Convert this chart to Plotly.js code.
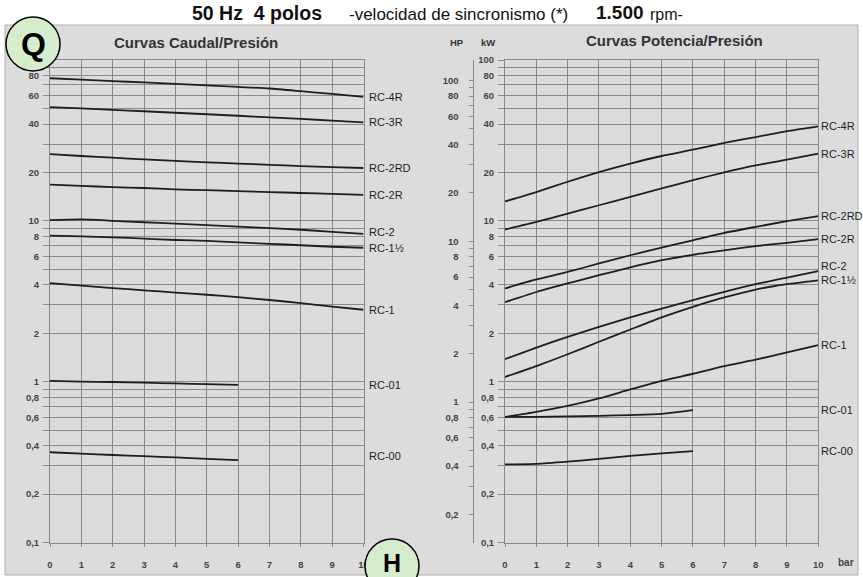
<!DOCTYPE html>
<html>
<head>
<meta charset="utf-8">
<script src="https://cdn.plot.ly/plotly-3.0.1.min.js"></script>
<style>html,body{margin:0;padding:0;background:#fff;}#chart{width:863px;height:577px;}</style>
</head>
<body>
<div id="chart"></div>
<script>
// ---------- DATA ----------
const pressure = [0, 1, 2, 3, 4, 5, 6, 7, 8, 9, 10];     // bar
const pressureShort = [0, 1, 2, 3, 4, 5, 6];              // bar (RC-01, RC-00)
const models = ['RC-4R', 'RC-3R', 'RC-2RD', 'RC-2R', 'RC-2', 'RC-1½', 'RC-1', 'RC-01', 'RC-00'];

// Curvas Caudal/Presión (Q)
const flowRC4R  = [77, 75.5, 74, 72.5, 71, 69.5, 68, 66.5, 64, 61.5, 59];
const flowRC3R  = [51, 50, 49, 48, 47, 46, 45, 44, 43, 42, 41];
const flowRC2RD = [26, 25.3, 24.7, 24.1, 23.6, 23.1, 22.7, 22.3, 21.9, 21.6, 21.3];
const flowRC2R  = [16.8, 16.5, 16.2, 16, 15.7, 15.5, 15.3, 15.1, 14.9, 14.7, 14.5];
const flowRC2   = [10.1, 10.2, 10.0, 9.8, 9.6, 9.4, 9.2, 9.0, 8.8, 8.55, 8.3];
const flowRC112 = [8.1, 8.0, 7.9, 7.75, 7.6, 7.5, 7.35, 7.2, 7.05, 6.9, 6.8];
const flowRC1   = [4.1, 3.95, 3.82, 3.7, 3.58, 3.47, 3.35, 3.22, 3.08, 2.93, 2.8];
const flowRC01  = [1.01, 1.0, 0.995, 0.985, 0.975, 0.965, 0.955];
const flowRC00  = [0.364, 0.357, 0.350, 0.344, 0.338, 0.331, 0.325];

// Curvas Potencia/Presión (kW)
const powRC4R  = [13.2, 15.1, 17.5, 20.1, 22.7, 25.3, 27.7, 30.5, 33.2, 36.1, 38.7];
const powRC3R  = [8.83, 9.84, 11.1, 12.5, 14.1, 15.9, 17.9, 20, 22.1, 24, 26.2];
const powRC2RD = [3.8, 4.32, 4.81, 5.43, 6.11, 6.82, 7.57, 8.41, 9.17, 9.95, 10.7];
const powRC2R  = [3.12, 3.61, 4.08, 4.59, 5.13, 5.69, 6.15, 6.55, 6.96, 7.3, 7.69];
const powRC2   = [1.38, 1.63, 1.9, 2.19, 2.51, 2.85, 3.21, 3.62, 4.04, 4.44, 4.86];
const powRC112 = [1.07, 1.25, 1.48, 1.77, 2.11, 2.51, 2.92, 3.34, 3.74, 4.04, 4.27];
const powRC1   = [0.604, 0.649, 0.707, 0.787, 0.894, 1.01, 1.12, 1.25, 1.37, 1.52, 1.69];
const powRC01  = [0.604, 0.604, 0.608, 0.613, 0.62, 0.63, 0.665];
const powRC00  = [0.306, 0.308, 0.318, 0.331, 0.346, 0.358, 0.37];

// Tick values / labels
const logTickVals = [0.1,0.2,0.3,0.4,0.5,0.6,0.7,0.8,0.9,1,2,3,4,5,6,7,8,9,10,20,30,40,50,60,70,80,90,100];
const leftTickText = ['0,1','0,2','','0,4','','0,6','','0,8','','1','2','','4','','6','','8','','10','20','','40','','60','','80','',''];
const kwTickText = ['0,1','0,2','','0,4','','0,6','','0,8','','1','2','','4','','6','','8','','10','20','','40','','60','','80','','100'];
const hpTickVals = [0.2,0.3,0.4,0.5,0.6,0.7,0.8,0.9,1,2,3,4,5,6,7,8,9,10,20,30,40,50,60,70,80,90,100];
const hpTickText = ['0,2','','0,4','','0,6','','0,8','','1','2','','4','','6','','8','','10','20','','40','','60','','80','','100'];
const xTickVals = [0,1,2,3,4,5,6,7,8,9,10];
const kwToHp = 1.341;

const titleMain = '50 Hz\u00a0\u00a04 polos';
const titleSub = '-velocidad de sincronismo (*)';
const titleSpeed = '1.500';
const titleRpm = 'rpm-';
const leftTitle = 'Curvas Caudal/Presión';
const rightTitle = 'Curvas Potencia/Presión';

// ---------- BUILD ----------
const flowSeries = [flowRC4R, flowRC3R, flowRC2RD, flowRC2R, flowRC2, flowRC112, flowRC1, flowRC01, flowRC00];
const powSeries = [powRC4R, powRC3R, powRC2RD, powRC2R, powRC2, powRC112, powRC1, powRC01, powRC00];

const W = 863, H = 577;
const px = v => v / W;
const py = v => 1 - v / H;

const lineStyle = {color: '#1e1e1e', width: 1.8, shape: 'spline', smoothing: 0.6};
const traces = [];
flowSeries.forEach((ys, i) => {
  traces.push({x: ys.length === pressure.length ? pressure : pressureShort, y: ys, xaxis: 'x', yaxis: 'y',
    mode: 'lines', line: lineStyle, hoverinfo: 'skip', name: models[i]});
});
powSeries.forEach((ys, i) => {
  traces.push({x: ys.length === pressure.length ? pressure : pressureShort, y: ys, xaxis: 'x2', yaxis: 'y2',
    mode: 'lines', line: lineStyle, hoverinfo: 'skip', name: models[i]});
});
// HP axis carrier (empty)
traces.push({x: [null], y: [null], xaxis: 'x2', yaxis: 'y3', mode: 'lines', hoverinfo: 'skip', showlegend: false});

const labelFont = {family: 'Liberation Sans, Arial', size: 11, color: '#1e1e1e'};
const annotations = [];
const labelShiftLeft = [0, 0, 0, 0, 2, 0, 0, 0, 4];
const labelShiftRight = [0, 0, 0, 0, 5, 0, 0, 0, 0];
flowSeries.forEach((ys, i) => {
  annotations.push({xref: 'x', yref: 'y', x: 10, y: Math.log10(ys[ys.length - 1]), text: models[i],
    showarrow: false, xanchor: 'left', yanchor: 'middle', xshift: 3, yshift: labelShiftLeft[i], font: labelFont});
});
powSeries.forEach((ys, i) => {
  annotations.push({xref: 'x2', yref: 'y2', x: 10, y: Math.log10(ys[ys.length - 1]), text: models[i],
    showarrow: false, xanchor: 'left', yanchor: 'middle', xshift: 1, yshift: labelShiftRight[i], font: labelFont});
});

const titleFamily = 'Liberation Sans, Arial, sans-serif';
annotations.push(
  {xref: 'paper', yref: 'paper', x: px(190), y: py(13), text: '<b>' + titleMain + '</b>', showarrow: false,
   xanchor: 'left', yanchor: 'middle', font: {family: titleFamily, size: 19.5, color: '#111'}},
  {xref: 'paper', yref: 'paper', x: px(347), y: py(14), text: titleSub, showarrow: false,
   xanchor: 'left', yanchor: 'middle', font: {family: titleFamily, size: 17, color: '#111'}},
  {xref: 'paper', yref: 'paper', x: px(594), y: py(12), text: '<b>' + titleSpeed + '</b>', showarrow: false,
   xanchor: 'left', yanchor: 'middle', font: {family: titleFamily, size: 19, color: '#111'}},
  {xref: 'paper', yref: 'paper', x: px(648), y: py(14), text: titleRpm, showarrow: false,
   xanchor: 'left', yanchor: 'middle', font: {family: titleFamily, size: 16, color: '#111'}},
  {xref: 'paper', yref: 'paper', x: px(196), y: py(42), text: '<b>' + leftTitle + '</b>', showarrow: false,
   xanchor: 'center', yanchor: 'middle', font: {family: titleFamily, size: 15, color: '#333'}},
  {xref: 'paper', yref: 'paper', x: px(674), y: py(41), text: '<b>' + rightTitle + '</b>', showarrow: false,
   xanchor: 'center', yanchor: 'middle', font: {family: titleFamily, size: 15, color: '#333'}},
  {xref: 'paper', yref: 'paper', x: px(457), y: py(42), text: '<b>HP</b>', showarrow: false,
   xanchor: 'center', yanchor: 'middle', font: {family: titleFamily, size: 9.5, color: '#333'}},
  {xref: 'paper', yref: 'paper', x: px(488), y: py(42), text: '<b>kW</b>', showarrow: false,
   xanchor: 'center', yanchor: 'middle', font: {family: titleFamily, size: 9.5, color: '#333'}},
  {xref: 'paper', yref: 'paper', x: px(846), y: py(562), text: '<b>bar</b>', showarrow: false,
   xanchor: 'center', yanchor: 'middle', font: {family: titleFamily, size: 10, color: '#444'}},
  {xref: 'paper', yref: 'paper', x: px(33), y: py(44), text: '<b>Q</b>', showarrow: false,
   xanchor: 'center', yanchor: 'middle', font: {family: titleFamily, size: 32, color: '#000'}},
  {xref: 'paper', yref: 'paper', x: px(392), y: py(563), text: '<b>H</b>', showarrow: false,
   xanchor: 'center', yanchor: 'middle', font: {family: titleFamily, size: 25, color: '#000'}}
);

const tickFont = {family: titleFamily, size: 9.5, color: '#444', weight: 'bold'};
const gridColor = '#8a8a8a';
const yDomain = [py(542.5), py(60)];

function xAxis(domain, anchor) {
  return {domain: domain, anchor: anchor, range: [0, 10], tickmode: 'array', tickvals: xTickVals,
    showgrid: true, gridcolor: gridColor, gridwidth: 1, zeroline: false,
    showline: true, linecolor: gridColor, linewidth: 1, mirror: true,
    ticks: 'outside', ticklen: 3, tickcolor: gridColor, ticklabelstandoff: 10, tickfont: tickFont, fixedrange: true};
}
function yAxis(anchor, text) {
  return {domain: yDomain, anchor: anchor, type: 'log', range: [-1, 2], tickmode: 'array',
    tickvals: logTickVals, ticktext: text,
    showgrid: true, gridcolor: gridColor, gridwidth: 1, zeroline: false,
    showline: true, linecolor: gridColor, linewidth: 1, mirror: true,
    ticks: 'outside', ticklen: 6, tickcolor: gridColor, ticklabelstandoff: 2, tickfont: tickFont, fixedrange: true};
}

const layout = {
  width: W, height: H,
  margin: {l: 0, r: 0, t: 0, b: 0, pad: 0},
  paper_bgcolor: '#ffffff',
  plot_bgcolor: '#f5f5f5',
  showlegend: false,
  xaxis: xAxis([px(50), px(363.5)], 'y'),
  yaxis: yAxis('x', leftTickText),
  xaxis2: xAxis([px(505), px(818.3)], 'y2'),
  yaxis2: yAxis('x2', kwTickText),
  yaxis3: {overlaying: 'y2', anchor: 'free', position: px(472.5), side: 'left', type: 'log',
    range: [Math.log10(0.1 * kwToHp), Math.log10(100 * kwToHp)], tickmode: 'array',
    tickvals: hpTickVals, ticktext: hpTickText, showgrid: false, zeroline: false,
    showline: true, linecolor: '#8a8a8a', linewidth: 1,
    ticks: 'outside', ticklen: 4, tickcolor: '#8a8a8a', ticklabelstandoff: 8, tickfont: tickFont, fixedrange: true},
  annotations: annotations,
  shapes: [
    {type: 'rect', xref: 'paper', yref: 'paper', x0: px(5), x1: px(858), y0: py(575), y1: py(25), layer: 'below',
     fillcolor: '#dcdcdc', line: {color: '#b0b0b0', width: 1}},
    {type: 'circle', xref: 'paper', yref: 'paper', x0: px(6), x1: px(60), y0: py(71), y1: py(17), layer: 'above',
     fillcolor: '#d5edcc', line: {color: '#000', width: 1.5}},
    {type: 'circle', xref: 'paper', yref: 'paper', x0: px(365), x1: px(419), y0: py(593), y1: py(539), layer: 'above',
     fillcolor: '#d5edcc', line: {color: '#000', width: 1.5}}
  ]
};

Plotly.newPlot('chart', traces, layout, {displayModeBar: false, staticPlot: true});
</script>
</body>
</html>
